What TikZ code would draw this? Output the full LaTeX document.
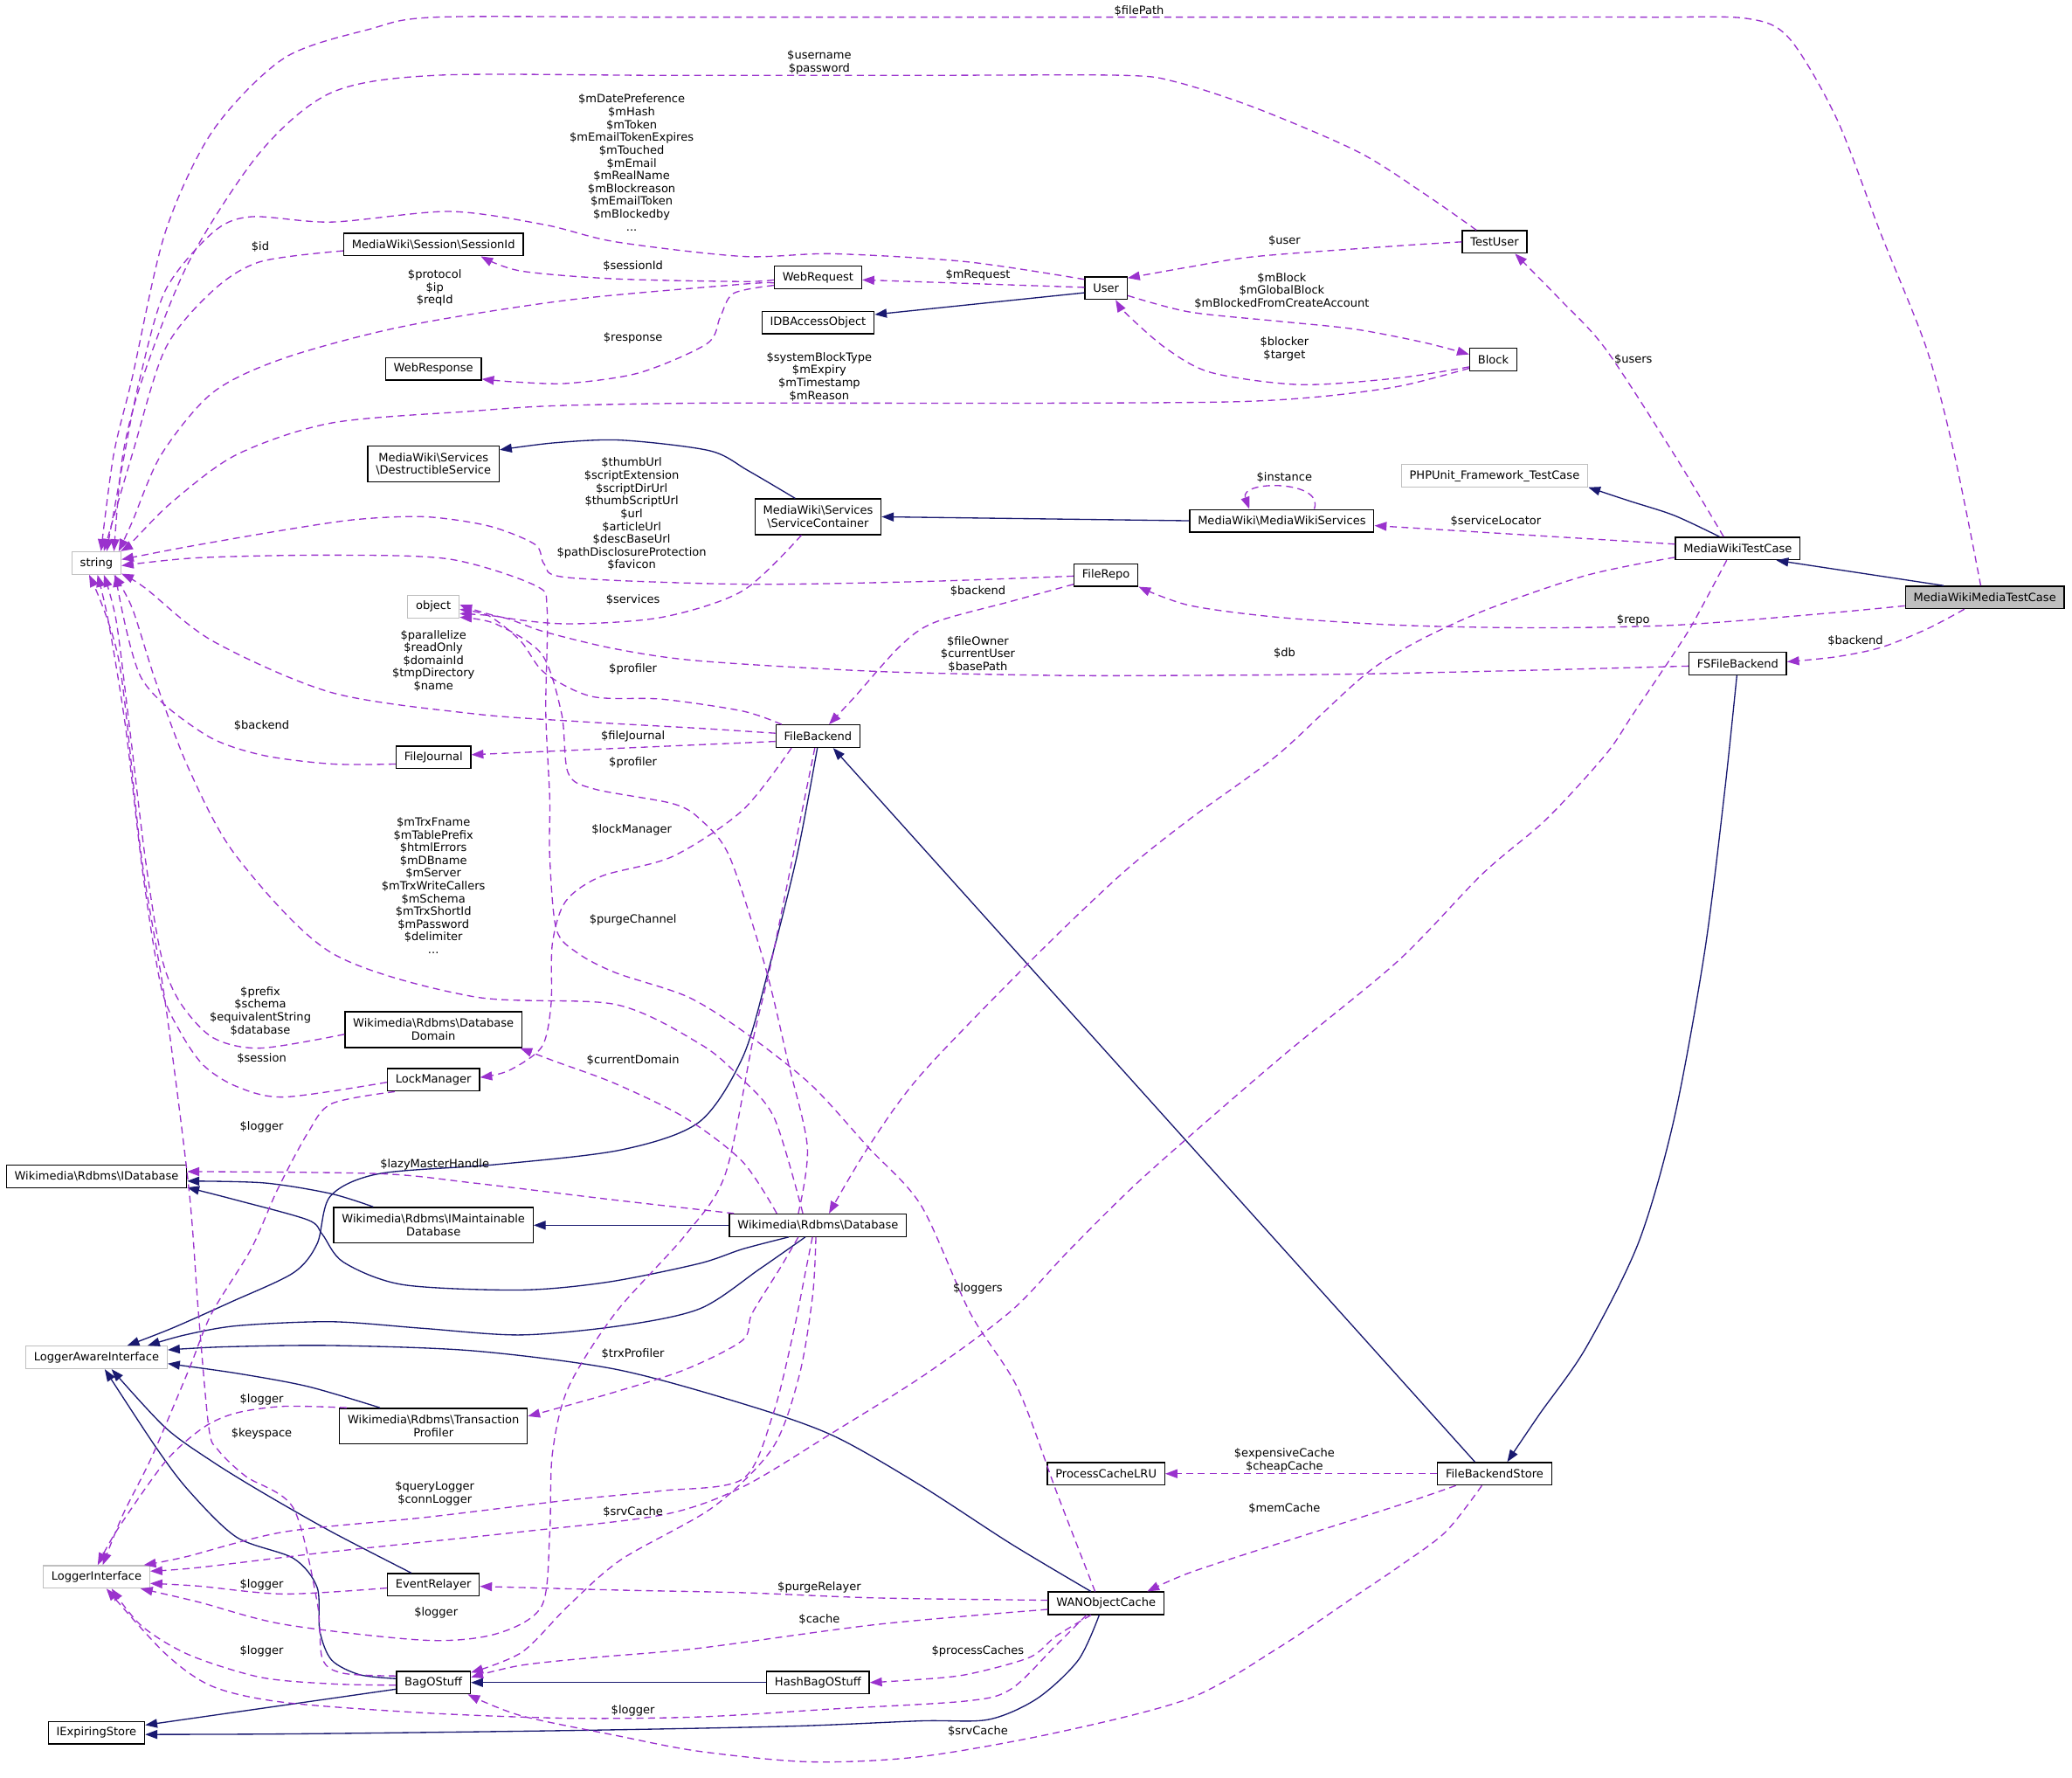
\documentclass[tikz,border=0pt]{standalone}
\usepackage{fontspec}
\setmainfont{DejaVu Sans}
\usetikzlibrary{arrows.meta}
\definecolor{edgeblue}{HTML}{191970}
\definecolor{edgepurple}{HTML}{9A32CD}
\definecolor{boxgray}{HTML}{BFBFBF}
\newcommand{\dgfont}{\fontsize{4.9pt}{5.5pt}\selectfont}

\begin{document}
\begin{tikzpicture}[x=0.02cm, y=-0.02cm,
  cls/.style={draw=black, fill=white, line width=0.5pt, inner xsep=3.5pt, inner ysep=1pt, minimum height=0.34cm, align=center, font=\dgfont},
  ext/.style={cls, draw=boxgray},
  root/.style={cls, fill=boxgray},
  tall/.style={minimum height=0.54cm},
  lbl/.style={inner sep=0pt, align=center, font=\dgfont},
  inh/.style={draw=edgeblue, line width=0.5pt, -{Triangle[length=5.2pt,width=3.8pt]}},
  dep/.style={draw=edgepurple, line width=0.5pt, dash pattern=on 3pt off 2pt, -{Triangle[length=5.2pt,width=3.8pt]}}]
  \useasboundingbox (0,0) rectangle (1568,1345);

  % Classes
  \node[root] (mwmtc) at (1502,452) {MediaWikiMediaTestCase};
  \node[cls] (mwtc) at (1315,415) {MediaWikiTestCase};
  \node[ext] (phpunit) at (1131,360) {PHPUnit\_Framework\_TestCase};
  \node[cls] (fsfb) at (1315,502) {FSFileBackend};
  \node[cls] (testuser) at (1131,183) {TestUser};
  \node[cls] (block) at (1130,272) {Block};
  \node[cls] (fbstore) at (1131,1115) {FileBackendStore};
  \node[cls] (mwservices) at (970,394) {MediaWiki\textbackslash MediaWikiServices};
  \node[cls] (user) at (837,218) {User};
  \node[cls] (filerepo) at (837,435) {FileRepo};
  \node[cls] (pclru) at (837,1115) {ProcessCacheLRU};
  \node[cls] (wanoc) at (837,1213) {WANObjectCache};
  \node[cls] (webrequest) at (619,210) {WebRequest};
  \node[cls] (idbao) at (619,244) {IDBAccessObject};
  \node[cls, tall] (svccontainer) at (619,391) {MediaWiki\textbackslash Services\\\textbackslash ServiceContainer};
  \node[cls] (filebackend) at (619,557) {FileBackend};
  \node[cls] (database) at (619,927) {Wikimedia\textbackslash Rdbms\textbackslash Database};
  \node[cls] (hashbag) at (619,1273) {HashBagOStuff};
  \node[cls] (sessionid) at (328,185) {MediaWiki\textbackslash Session\textbackslash SessionId};
  \node[cls] (webresponse) at (328,279) {WebResponse};
  \node[cls, tall] (destructible) at (328,351) {MediaWiki\textbackslash Services\\\textbackslash DestructibleService};
  \node[ext] (object) at (328,459) {object};
  \node[cls] (filejournal) at (328,573) {FileJournal};
  \node[cls, tall] (dbdomain) at (328,779) {Wikimedia\textbackslash Rdbms\textbackslash Database\\Domain};
  \node[cls] (lockmanager) at (328,817) {LockManager};
  \node[cls, tall] (imaint) at (328,927) {Wikimedia\textbackslash Rdbms\textbackslash IMaintainable\\Database};
  \node[cls, tall] (transprof) at (328,1079) {Wikimedia\textbackslash Rdbms\textbackslash Transaction\\Profiler};
  \node[cls] (eventrelayer) at (328,1199) {EventRelayer};
  \node[cls] (bagostuff) at (328,1273) {BagOStuff};
  \node[ext] (string) at (73,426) {string};
  \node[cls] (idatabase) at (73,890) {Wikimedia\textbackslash Rdbms\textbackslash IDatabase};
  \node[ext] (loggeraware) at (73,1027) {LoggerAwareInterface};
  \node[ext] (loggeriface) at (73,1193) {LoggerInterface};
  \node[cls] (iexpiring) at (73,1311) {IExpiringStore};

  % Inheritance
  \draw[inh] (mwmtc.164) -- (mwtc.343);
  \draw[inh] plot[smooth] coordinates {(mwtc.147) (1267,390) (1233,379) (phpunit.353)};
  \draw[inh] plot[smooth] coordinates {(fsfb.266) (1305,600) (1290,720) (1267,846) (1240,940) (1200,1020) (1165,1070) (fbstore.43)};
  \draw[inh] (fbstore.149) -- (filebackend.322);
  \draw[inh] (mwservices.west) -- (svccontainer.east);
  \draw[inh] plot[smooth] coordinates {(svccontainer.141) (566,356) (537,341) (470,333) (420,335) (destructible.12)};
  \draw[inh] (user.192) -- (idbao.8);
  \draw[inh] plot[smooth] coordinates {(filebackend.267) (603,648) (581,736) (562,800) (529,849) (470,870) (376,881) (287,888) (250,905) (240,941) (222,963) (175,985) (130,1005) (loggeraware.21)};
  \draw[inh] plot[smooth] coordinates {(database.223) (575,960) (530,990) (470,1003) (394,1010) (320,1005) (251,1000) (180,1003) (140,1010) (loggeraware.13)};
  \draw[inh] plot[smooth] coordinates {(database.202) (562,945) (529,956) (460,970) (394,976) (305,972) (260,955) (244,934) (233,923) (179,908) (idatabase.353)};
  \draw[inh] plot[smooth] coordinates {(imaint.163) (250,903) (200,895) (idatabase.357)};
  \draw[inh] (database.west) -- (imaint.east);
  \draw[inh] plot[smooth] coordinates {(wanoc.142) (765,1168) (697,1124) (630,1086) (562,1062) (466,1036) (358,1022) (251,1018) (170,1019) (loggeraware.6)};
  \draw[inh] plot[smooth] coordinates {(transprof.161) (233,1049) (179,1039) (loggeraware.355)};
  \draw[inh] plot[smooth] coordinates {(eventrelayer.152) (251,1159) (200,1130) (161,1106) (125,1080) (loggeraware.322)};
  \draw[inh] plot[smooth] coordinates {(bagostuff.174) (272,1267) (251,1256) (242,1234) (240,1201) (222,1179) (179,1163) (143,1128) (118,1095) (loggeraware.305)};
  \draw[inh] (bagostuff.190) -- (iexpiring.9);
  \draw[inh] plot[smooth] coordinates {(wanoc.240) (816,1256) (785,1285) (748,1301) (697,1302) (600,1306) (450,1309) (300,1311) (200,1312) (iexpiring.358)};
  \draw[inh] (hashbag.west) -- (bagostuff.east);

  % Members, top part
  \draw[dep] plot[smooth] coordinates {(mwmtc.109) (1479,344) (1458,264) (1423,176) (1390,90) (1354,29) (1322,14) (1250,13) (1100,13) (900,13) (700,13) (500,13) (330,13) (280,22) (215,44) (161,99) (125,176) (100,286) (86,344) (string.69)};
  \draw[dep] plot[smooth] coordinates {(testuser.147) (1080,148) (1028,115) (951,82) (890,62) (849,57) (700,57) (500,57) (330,57) (251,70) (197,115) (143,198) (108,286) (93,344) (string.34)};
  \draw[dep] plot[smooth] coordinates {(user.158) (731,198) (630,192) (562,194) (466,183) (412,170) (340,160) (251,168) (190,164) (161,176) (125,220) (105,290) (93,350) (string.49)};
  \draw[dep] plot[smooth] coordinates {(sessionid.184) (197,198) (161,220) (125,264) (100,344) (string.58)};
  \draw[dep] plot[smooth] coordinates {(webrequest.187) (562,215) (430,227) (305,247) (215,271) (161,297) (122,344) (100,395) (string.28)};
  \draw[dep] plot[smooth] coordinates {(webrequest.183) (562,213) (466,211) (394,205) (sessionid.346)};
  \draw[dep] plot[smooth] coordinates {(webrequest.190) (555,222) (545,240) (535,260) (484,282) (430,290) (390,289) (webresponse.348)};
  \draw[dep] (user.178) -- (webrequest.357);
  \draw[dep] plot[smooth] coordinates {(testuser.west) (1058,186) (951,194) (900,202) (user.25)};
  \draw[dep] plot[smooth] coordinates {(user.341) (900,236) (967,243) (1025,249) (1077,259) (block.168)};
  \draw[dep] plot[smooth] coordinates {(block.197) (1058,286) (984,291) (917,282) (883,264) (853,238) (user.309)};
  \draw[dep] plot[smooth] coordinates {(block.200) (1060,292) (1000,300) (933,304) (800,305) (650,305) (529,305) (420,307) (358,311) (251,320) (179,344) (130,380) (100,410) (string.26)};
  \draw[dep] plot[smooth] coordinates {(mwtc.140) (1267,344) (1215,264) (1180,226) (testuser.330)};
  \draw[dep] (mwtc.176) -- (mwservices.357);
  \draw[dep] (mwservices.20) .. controls +(8,-22) and +(-8,-22) .. (mwservices.160);
  \draw[dep] plot[smooth] coordinates {(mwmtc.186) (1371,465) (1267,473) (1163,475) (1059,473) (967,467) (900,458) (filerepo.340)};
  \draw[dep] plot[smooth] coordinates {(mwmtc.210) (1458,476) (1423,490) (1389,497) (fsfb.2)};

  % Members, middle part
  \draw[dep] plot[smooth] coordinates {(mwtc.188) (1198,436) (1111,467) (1040,505) (967,571) (900,620) (849,661) (782,725) (697,813) (657,868) (database.47)};
  \draw[dep] plot[smooth] coordinates {(mwtc.227) (1282,470) (1267,494) (1236,540) (1215,571) (1170,620) (1122,661) (1058,727) (967,802) (866,890) (810,945) (765,992) (700,1040) (630,1084) (562,1125) (502,1146) (394,1159) (251,1174) (150,1186) (loggeriface.6)};
  \draw[dep] plot[smooth] coordinates {(fsfb.183) (1163,507) (1025,510) (900,511) (798,511) (664,508) (529,500) (466,491) (412,478) (380,467) (object.345)};
  \draw[dep] plot[smooth] coordinates {(filerepo.182) (697,440) (562,442) (430,437) (412,427) (405,412) (370,398) (322,391) (270,393) (215,401) (140,414) (string.8)};
  \draw[dep] plot[smooth] coordinates {(filerepo.196) (765,455) (707,471) (681,489) (647,527) (filebackend.47)};
  \draw[dep] plot[smooth] coordinates {(svccontainer.228) (562,447) (501,467) (430,472) (380,467) (object.4)};
  \draw[dep] plot[smooth] coordinates {(filebackend.162) (562,538) (501,529) (448,527) (412,509) (394,485) (370,466) (object.354)};
  \draw[dep] plot[smooth] coordinates {(database.149) (611,868) (596,802) (579,731) (552,648) (530,620) (509,608) (450,597) (430,585) (425,540) (410,495) (375,472) (object.338)};
  \draw[dep] plot[smooth] coordinates {(filebackend.176) (529,551) (440,546) (358,540) (251,524) (161,485) (110,445) (string.337)};
  \draw[dep] (filebackend.187) -- (filejournal.4);
  \draw[dep] plot[smooth] coordinates {(filejournal.190) (251,578) (197,571) (154,555) (107,513) (string.328)};
  \draw[dep] plot[smooth] coordinates {(filebackend.204) (562,613) (509,648) (455,663) (428,682) (418,714) (417,760) (410,792) (385,810) (lockmanager.3)};
  \draw[dep] plot[smooth] coordinates {(database.142) (586,846) (560,815) (530,790) (466,760) (358,754) (251,721) (179,648) (143,582) (118,516) (100,460) (string.326)};
  \draw[dep] plot[smooth] coordinates {(wanoc.133) (800,1130) (770,1050) (734,993) (697,912) (657,868) (613,820) (562,780) (520,754) (466,736) (437,721) (421,703) (416,648) (416,604) (413,538) (414,461) (405,443) (340,423) (251,420) (150,422) (string.354)};
  \draw[dep] plot[smooth] coordinates {(dbdomain.183) (197,793) (161,785) (136,758) (122,723) (110,650) (98,550) (88,470) (string.302)};
  \draw[dep] plot[smooth] coordinates {(lockmanager.183) (215,830) (179,822) (154,806) (136,780) (122,747) (108,660) (95,550) (82,470) (string.275)};
  \draw[dep] plot[smooth] coordinates {(database.172) (466,908) (358,895) (287,888) (idatabase.3)};
  \draw[dep] plot[smooth] coordinates {(database.164) (562,879) (519,846) (466,820) (420,803) (dbdomain.348)};

  % Members, lower part
  \draw[dep] plot[smooth] coordinates {(database.211) (590,960) (569,994) (562,1014) (519,1036) (466,1053) (420,1066) (transprof.6)};
  \draw[dep] plot[smooth] coordinates {(database.245) (610,960) (600,1010) (585,1070) (562,1119) (500,1128) (430,1135) (322,1148) (215,1159) (140,1178) (loggeriface.14)};
  \draw[dep] plot[smooth] coordinates {(database.260) (615,980) (605,1040) (585,1095) (540,1140) (470,1180) (430,1215) (395,1250) (bagostuff.15)};
  \draw[dep] plot[smooth] coordinates {(filebackend.255) (600,648) (583,731) (570,786) (549,888) (519,934) (466,993) (430,1050) (418,1100) (416,1160) (410,1215) (376,1236) (322,1241) (215,1229) (150,1212) (loggeriface.345)};
  \draw[dep] plot[smooth] coordinates {(lockmanager.197) (251,835) (233,857) (210,900) (190,945) (160,994) (143,1036) (115,1102) (93,1146) (loggeriface.62)};
  \draw[dep] plot[smooth] coordinates {(transprof.168) (215,1064) (179,1069) (154,1080) (125,1106) (89,1157) (loggeriface.84)};
  \draw[dep] plot[smooth] coordinates {(eventrelayer.184) (215,1206) (150,1200) (loggeriface.353)};
  \draw[dep] plot[smooth] coordinates {(bagostuff.184) (251,1274) (197,1269) (143,1252) (107,1230) (loggeriface.322)};
  \draw[dep] plot[smooth] coordinates {(bagostuff.170) (260,1266) (244,1255) (240,1212) (222,1141) (186,1117) (165,1097) (158,1080) (150,991) (143,900) (125,758) (107,648) (90,500) (string.238)};
  \draw[dep] plot[smooth] coordinates {(wanoc.211) (799,1245) (765,1278) (731,1287) (630,1293) (529,1299) (430,1300) (322,1296) (215,1288) (161,1276) (125,1251) (loggeriface.310)};
  \draw[dep] plot[smooth] coordinates {(wanoc.177) (664,1209) (562,1205) (466,1203) (eventrelayer.358)};
  \draw[dep] plot[smooth] coordinates {(wanoc.186) (664,1229) (529,1247) (450,1254) (394,1260) (bagostuff.8)};
  \draw[dep] plot[smooth] coordinates {(wanoc.218) (799,1238) (779,1254) (731,1267) (691,1271) (hashbag.east)};
  \draw[dep] (fbstore.west) -- (pclru.east);
  \draw[dep] plot[smooth] coordinates {(fbstore.197) (1058,1139) (967,1168) (900,1190) (wanoc.16)};
  \draw[dep] plot[smooth] coordinates {(fbstore.223) (1094,1159) (1059,1185) (1025,1208) (967,1247) (900,1285) (799,1311) (697,1329) (613,1333) (529,1325) (466,1313) (394,1298) (bagostuff.341)};

  % Labels
  \node[lbl] (lFilePath) at (862,8) {\$filePath};
  \node[lbl] (lUserPass) at (620,47) {\$username\\\$password};
  \node[lbl] (lUserFields) at (478,123) {\$mDatePreference\\\$mHash\\\$mToken\\\$mEmailTokenExpires\\\$mTouched\\\$mEmail\\\$mRealName\\\$mBlockreason\\\$mEmailToken\\\$mBlockedby\\...};
  \node[lbl] (lId) at (197,187) {\$id};
  \node[lbl] (lProtocol) at (329,218) {\$protocol\\\$ip\\\$reqId};
  \node[lbl] (lSessionId) at (479,201) {\$sessionId};
  \node[lbl] (lResponse) at (479,256) {\$response};
  \node[lbl] (lMRequest) at (740,208) {\$mRequest};
  \node[lbl] (lUser) at (972,182) {\$user};
  \node[lbl] (lMBlock) at (970,220) {\$mBlock\\\$mGlobalBlock\\\$mBlockedFromCreateAccount};
  \node[lbl] (lBlocker) at (972,264) {\$blocker\\\$target};
  \node[lbl] (lSystemBlock) at (620,285) {\$systemBlockType\\\$mExpiry\\\$mTimestamp\\\$mReason};
  \node[lbl] (lUsers) at (1236,272) {\$users};
  \node[lbl] (lInstance) at (972,361) {\$instance};
  \node[lbl] (lServiceLocator) at (1132,394) {\$serviceLocator};
  \node[lbl] (lThumbUrl) at (478,389) {\$thumbUrl\\\$scriptExtension\\\$scriptDirUrl\\\$thumbScriptUrl\\\$url\\\$articleUrl\\\$descBaseUrl\\\$pathDisclosureProtection\\\$favicon};
  \node[lbl] (lServices) at (479,454) {\$services};
  \node[lbl] (lRepo) at (1236,469) {\$repo};
  \node[lbl] (lBackendA) at (1404,485) {\$backend};
  \node[lbl] (lBackendB) at (740,447) {\$backend};
  \node[lbl] (lFileOwner) at (740,495) {\$fileOwner\\\$currentUser\\\$basePath};
  \node[lbl] (lDb) at (972,494) {\$db};
  \node[lbl] (lParallelize) at (328,500) {\$parallelize\\\$readOnly\\\$domainId\\\$tmpDirectory\\\$name};
  \node[lbl] (lProfilerA) at (479,506) {\$profiler};
  \node[lbl] (lFileJournal) at (479,557) {\$fileJournal};
  \node[lbl] (lBackendC) at (198,549) {\$backend};
  \node[lbl] (lProfilerB) at (479,577) {\$profiler};
  \node[lbl] (lLockManager) at (478,628) {\$lockManager};
  \node[lbl] (lTrxFname) at (328,670) {\$mTrxFname\\\$mTablePrefix\\\$htmlErrors\\\$mDBname\\\$mServer\\\$mTrxWriteCallers\\\$mSchema\\\$mTrxShortId\\\$mPassword\\\$delimiter\\...};
  \node[lbl] (lPurgeChannel) at (479,696) {\$purgeChannel};
  \node[lbl] (lPrefix) at (197,765) {\$prefix\\\$schema\\\$equivalentString\\\$database};
  \node[lbl] (lSession) at (198,801) {\$session};
  \node[lbl] (lCurrentDomain) at (479,802) {\$currentDomain};
  \node[lbl] (lLoggerA) at (198,853) {\$logger};
  \node[lbl] (lLazyMaster) at (329,881) {\$lazyMasterHandle};
  \node[lbl] (lLoggers) at (740,975) {\$loggers};
  \node[lbl] (lTrxProfiler) at (479,1024) {\$trxProfiler};
  \node[lbl] (lLoggerB) at (198,1059) {\$logger};
  \node[lbl] (lKeyspace) at (198,1085) {\$keyspace};
  \node[lbl] (lQueryLogger) at (329,1130) {\$queryLogger\\\$connLogger};
  \node[lbl] (lSrvCacheA) at (479,1144) {\$srvCache};
  \node[lbl] (lExpensive) at (972,1105) {\$expensiveCache\\\$cheapCache};
  \node[lbl] (lMemCache) at (972,1141) {\$memCache};
  \node[lbl] (lPurgeRelayer) at (620,1201) {\$purgeRelayer};
  \node[lbl] (lLoggerC) at (198,1199) {\$logger};
  \node[lbl] (lLoggerD) at (330,1220) {\$logger};
  \node[lbl] (lCache) at (620,1225) {\$cache};
  \node[lbl] (lProcessCaches) at (740,1249) {\$processCaches};
  \node[lbl] (lLoggerE) at (198,1249) {\$logger};
  \node[lbl] (lLoggerF) at (479,1294) {\$logger};
  \node[lbl] (lSrvCacheB) at (740,1310) {\$srvCache};
\end{tikzpicture}
\end{document}
